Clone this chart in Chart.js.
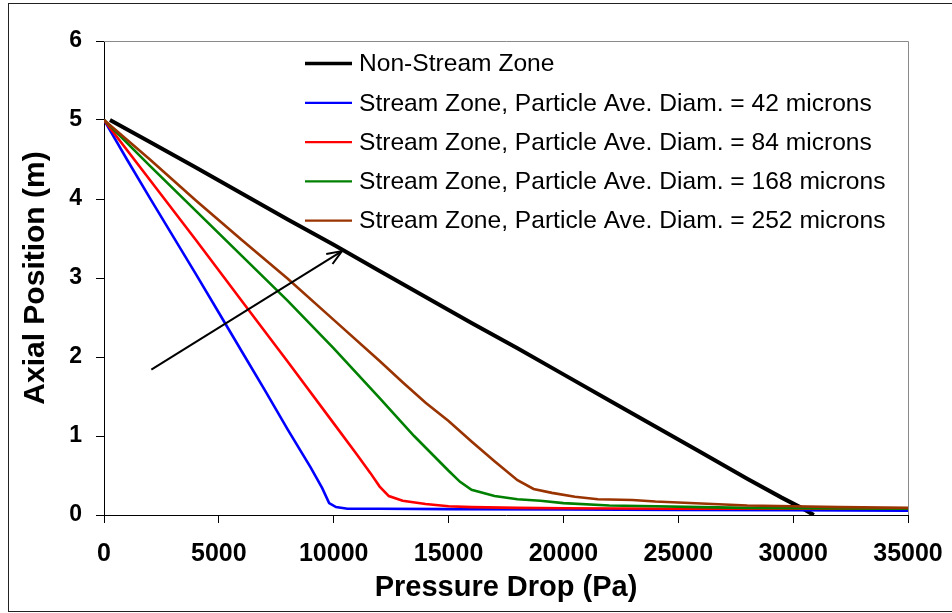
<!DOCTYPE html>
<html>
<head>
<meta charset="utf-8">
<script src="https://cdn.jsdelivr.net/npm/chart.js@4.4.1/dist/chart.umd.min.js"></script>
<style>
  html, body { margin: 0; padding: 0; background: #fff; }
  canvas { display: block; }
</style>
</head>
<body>
<canvas id="c" width="952" height="613"></canvas>
<script>
// ---- Data ----
const seriesLabels = [
  "Non-Stream Zone",
  "Stream Zone, Particle Ave. Diam. = 42 microns",
  "Stream Zone, Particle Ave. Diam. = 84 microns",
  "Stream Zone, Particle Ave. Diam. = 168 microns",
  "Stream Zone, Particle Ave. Diam. = 252 microns"
];
const xTickValues = [0, 5000, 10000, 15000, 20000, 25000, 30000, 35000];
const yTickValues = [0, 1, 2, 3, 4, 5, 6];

const nonStreamX = [260, 2000, 4000, 6000, 8000, 10000, 12000, 14000, 16000, 18000, 20000, 22000, 24000, 26000, 28000, 29500, 30300, 30900];
const nonStreamY = [5, 4.72, 4.4, 4.07, 3.74, 3.42, 3.09, 2.76, 2.43, 2.11, 1.78, 1.45, 1.12, 0.79, 0.46, 0.22, 0.1, 0];

const d42X = [0, 1000, 2000, 3000, 4000, 5000, 6000, 7000, 8000, 9000, 9500, 9800, 10100, 10600, 12000, 15000, 20000, 25000, 30000, 35000];
const d42Y = [5, 4.5, 4.01, 3.53, 3.05, 2.56, 2.07, 1.58, 1.08, 0.6, 0.34, 0.15, 0.1, 0.08, 0.08, 0.075, 0.07, 0.065, 0.06, 0.055];

const d84X = [0, 2000, 4000, 6000, 8000, 10000, 11000, 11600, 12000, 12400, 13000, 14000, 15000, 16000, 18000, 20000, 25000, 30000, 35000];
const d84Y = [5, 4.24, 3.48, 2.71, 1.94, 1.16, 0.77, 0.53, 0.36, 0.24, 0.18, 0.14, 0.11, 0.1, 0.09, 0.085, 0.08, 0.08, 0.08];

const d168X = [0, 2000, 4000, 6000, 8000, 10000, 12000, 13500, 15000, 15500, 16000, 17000, 18000, 19000, 20000, 22000, 24000, 26000, 28000, 30000, 35000];
const d168Y = [5, 4.42, 3.85, 3.28, 2.71, 2.11, 1.48, 1.0, 0.56, 0.42, 0.32, 0.24, 0.2, 0.18, 0.15, 0.12, 0.11, 0.1, 0.09, 0.085, 0.08];

const d252X = [0, 2000, 4000, 6000, 8000, 10000, 12000, 13000, 14000, 15000, 16000, 17000, 18000, 18700, 19500, 20500, 21500, 23000, 24000, 26000, 28000, 30000, 32000, 35000];
const d252Y = [5, 4.5, 3.98, 3.48, 2.99, 2.47, 1.95, 1.68, 1.42, 1.19, 0.93, 0.68, 0.44, 0.33, 0.28, 0.23, 0.2, 0.19, 0.17, 0.145, 0.12, 0.11, 0.1, 0.09];

// arrow annotation (data coordinates): from tail to head
const arrowTail = [2060, 1.84];
const arrowHead = [10360, 3.34];

// ---- Build ----
const zip = (xs, ys) => xs.map((x, i) => ({ x: x, y: ys[i] }));
const FONT = "'Liberation Sans', Arial, Helvetica, sans-serif";

const seriesStyle = [
  { color: '#000000', width: 4,   legendWidth: 3.5 },
  { color: '#0000FF', width: 2.6, legendWidth: 2.2 },
  { color: '#FF0000', width: 2.6, legendWidth: 2.2 },
  { color: '#008000', width: 2.6, legendWidth: 2.2 },
  { color: '#993300', width: 2.6, legendWidth: 2.2 }
];
const seriesData = [
  zip(nonStreamX, nonStreamY),
  zip(d42X, d42Y),
  zip(d84X, d84Y),
  zip(d168X, d168Y),
  zip(d252X, d252Y)
];

const datasets = seriesLabels.map((lab, i) => ({
  label: lab,
  data: seriesData[i],
  borderColor: seriesStyle[i].color,
  backgroundColor: seriesStyle[i].color,
  borderWidth: seriesStyle[i].width,
  pointRadius: 0,
  tension: 0,
  fill: false,
  order: seriesLabels.length - 1 - i
}));

const decorPlugin = {
  id: 'decor',
  beforeDatasetsDraw(chart) {
    const { ctx, chartArea: a } = chart;
    ctx.save();
    ctx.strokeStyle = '#8a8a8a';
    ctx.lineWidth = 1;
    ctx.beginPath();
    ctx.moveTo(a.left, Math.round(a.top) + 0.5);
    ctx.lineTo(Math.round(a.right) + 0.5, Math.round(a.top) + 0.5);
    ctx.lineTo(Math.round(a.right) + 0.5, a.bottom);
    ctx.stroke();
    ctx.restore();
  },
  afterDraw(chart) {
    const { ctx, chartArea: a, scales } = chart;
    ctx.save();
    // outer frame
    ctx.strokeStyle = '#222';
    ctx.lineWidth = 1;
    ctx.strokeRect(8.5, 3.5, 1000, 608);

    // arrow
    const x0 = scales.x.getPixelForValue(arrowTail[0]);
    const y0 = scales.y.getPixelForValue(arrowTail[1]);
    const x1 = scales.x.getPixelForValue(arrowHead[0]);
    const y1 = scales.y.getPixelForValue(arrowHead[1]);
    ctx.strokeStyle = '#000';
    ctx.lineWidth = 2;
    ctx.beginPath();
    ctx.moveTo(x0, y0);
    ctx.lineTo(x1, y1);
    ctx.stroke();
    const ang = Math.atan2(y1 - y0, x1 - x0);
    const L = 16, spread = 0.38;
    ctx.beginPath();
    ctx.moveTo(x1 - L * Math.cos(ang - spread), y1 - L * Math.sin(ang - spread));
    ctx.lineTo(x1, y1);
    ctx.lineTo(x1 - L * Math.cos(ang + spread), y1 - L * Math.sin(ang + spread));
    ctx.stroke();

    // legend (inside plot area)
    const lx0 = a.left + 201, lx1 = a.left + 248, tx = a.left + 255;
    const ly0 = a.top + 22.5, dy = 39.3;
    ctx.font = '24.6px ' + FONT;
    ctx.textBaseline = 'middle';
    ctx.textAlign = 'left';
    chart.data.datasets.forEach((ds, i) => {
      const y = ly0 + i * dy;
      ctx.strokeStyle = seriesStyle[i].color;
      ctx.lineWidth = seriesStyle[i].legendWidth;
      ctx.beginPath();
      ctx.moveTo(lx0, y);
      ctx.lineTo(lx1, y);
      ctx.stroke();
      ctx.fillStyle = '#000';
      ctx.fillText(ds.label, tx, y + 1);
    });
    ctx.restore();
  }
};

new Chart(document.getElementById('c'), {
  type: 'line',
  data: { datasets: datasets },
  options: {
    responsive: false,
    animation: false,
    devicePixelRatio: 1,
    layout: { padding: { left: 0, top: 41, right: 44, bottom: 0 } },
    plugins: { legend: { display: false }, tooltip: { enabled: false } },
    scales: {
      x: {
        type: 'linear',
        min: 0, max: 35000,
        afterFit(s) { s.height = 98; s.paddingRight = 0; s.paddingLeft = 0; },
        afterBuildTicks(s) { s.ticks = xTickValues.map(v => ({ value: v })); },
        ticks: {
          color: '#000', padding: 16.5, maxRotation: 0,
          font: { family: FONT, size: 25, weight: 'bold' },
          callback: v => String(v)
        },
        grid: { drawOnChartArea: false, drawTicks: true, tickLength: 8, color: '#000', tickColor: '#000', tickWidth: 1 },
        border: { color: '#000', width: 1 },
        title: {
          display: true, text: 'Pressure Drop (Pa)', color: '#000',
          font: { family: FONT, size: 29, weight: 'bold' },
          padding: { top: 0, bottom: 7.3 }
        }
      },
      y: {
        type: 'linear',
        min: 0, max: 6,
        afterFit(s) { s.width = 104; s.paddingTop = 0; s.paddingBottom = 0; },
        afterBuildTicks(s) { s.ticks = yTickValues.map(v => ({ value: v })); },
        ticks: {
          color: '#000', padding: 14,
          font: { family: FONT, size: 23, weight: 'bold' },
          callback: v => String(v)
        },
        grid: { drawOnChartArea: false, drawTicks: true, tickLength: 8, color: '#000', tickColor: '#000', tickWidth: 1 },
        border: { color: '#000', width: 1 },
        title: {
          display: true, text: 'Axial Position (m)', color: '#000',
          font: { family: FONT, size: 30, weight: 'bold' },
          padding: { top: 18, bottom: 0 }
        }
      }
    }
  },
  plugins: [decorPlugin]
});
</script>
</body>
</html>
